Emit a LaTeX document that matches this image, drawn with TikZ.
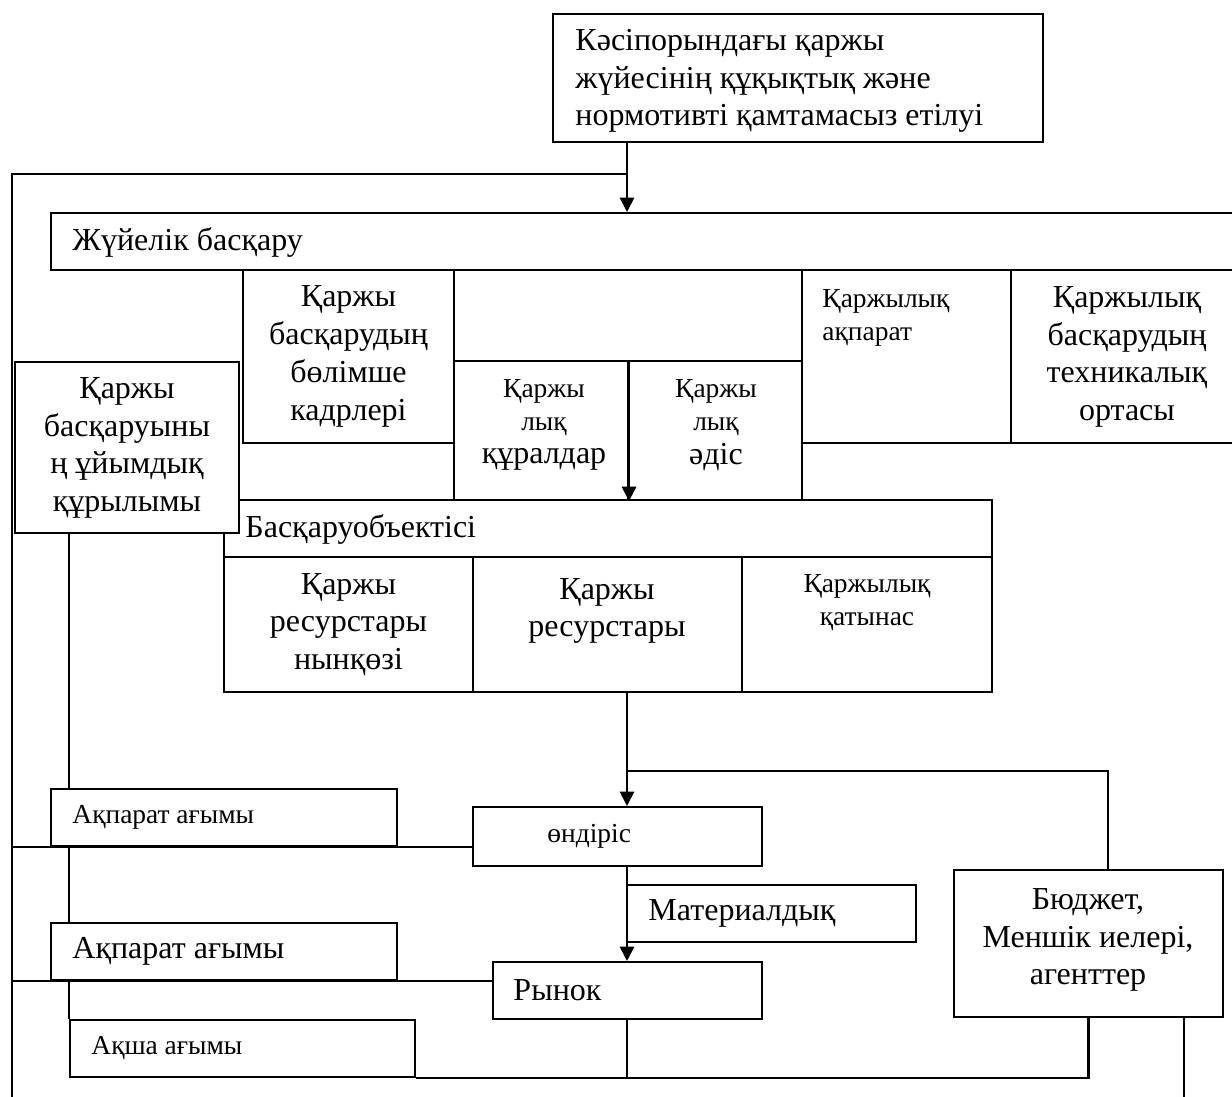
\documentclass[tikz,border=0pt]{standalone}
\usepackage{fontspec}
\setmainfont{Liberation Serif}
\usetikzlibrary{arrows.meta, fit, calc, backgrounds}

\newcommand{\bigfs}{\fontsize{14}{16.5}\selectfont}
\newcommand{\medfs}{\fontsize{12}{14.5}\selectfont}

\begin{document}
\begin{tikzpicture}[
    x=0.4375pt, y=-0.4375pt,
    % ── boxes ──
    cell/.style     = {draw=black, fill=white, line width=0.9pt, inner sep=0pt},
    % ── connectors ──
    link/.style     = {draw=black, line width=0.9pt},
    arr/.style      = {-{Triangle[length=6.3pt, width=6.3pt]}, line width=0.9pt},
    % ── text styles ──
    bigLabel/.style = {font=\bigfs, inner sep=0pt},
    medLabel/.style = {font=\medfs, inner sep=0pt},
]

\useasboundingbox (0,0) rectangle (1232,1097);
\clip (0,0) rectangle (1232,1097);

% =====================================================================
% Top: legal / normative support
% =====================================================================
\node[cell, fit={(553,14) (1043,142)}] (law) {};
\node[bigLabel, align=left, anchor=west] (lawTxt) at (575,81)
  {Кәсіпорындағы қаржы\\жүйесінің құқықтық және\\нормотивті қамтамасыз етілуі};

% =====================================================================
% System management strip and its sub-blocks
% =====================================================================
\node[cell, fit={(51,213) (1245,270)}] (sys) {};
\node[bigLabel, anchor=west] (sysTxt) at (72,243) {Жүйелік басқару};

\node[cell, fit={(243,270) (454,443)}] (staff) {};
\node[bigLabel, align=center] (staffTxt) at (staff.center)
  {Қаржы\\басқарудың\\бөлімше\\кадрлері};

\node[cell, fit={(454,361) (628,500)}] (tools) {};
\node[medLabel, align=center] (toolsTxt) at (544,425)
  {Қаржы\\лық\\{\bigfs құралдар}};

\node[cell, fit={(628,361) (802,500)}] (method) {};
\node[medLabel, align=center] (methodTxt) at (716,425)
  {Қаржы\\лық\\{\bigfs әдіс}};

\node[cell, fit={(802,270) (1011,443)}] (info) {};
\node[medLabel, align=left, anchor=west] (infoTxt) at (822,318)
  {Қаржылық\\ақпарат};

\node[cell, fit={(1011,270) (1245,443)}] (tech) {};
\node[bigLabel, align=center] (techTxt) at (1127,357)
  {Қаржылық\\басқарудың\\техникалық\\ортасы};

% =====================================================================
% Object of management
% =====================================================================
\node[cell, fit={(224,500) (992,557)}] (obj) {};
\node[bigLabel, anchor=west] (objTxt) at (245,530) {Басқаруобъектісі};

\node[cell, fit={(224,557) (473,692)}] (source) {};
\node[bigLabel, align=center] (sourceTxt) at (source.center)
  {Қаржы\\ресурстары\\нынқөзі};

\node[cell, fit={(473,557) (742,692)}] (res) {};
\node[bigLabel, align=center] (resTxt) at (607,611) {Қаржы\\ресурстары};

\node[cell, fit={(742,557) (992,692)}] (rel) {};
\node[medLabel, align=center] (relTxt) at (867,603) {Қаржылық\\қатынас};

% organisational structure (sits over the corner of obj)
\node[cell, fit={(15,362) (239,533)}] (org) {};
\node[bigLabel, align=center] (orgTxt) at (127,448)
  {Қаржы\\басқаруыны\\ң ұйымдық\\құрылымы};

% =====================================================================
% Flows, production, market, budget
% =====================================================================
\node[cell, fit={(51,789) (397,846)}] (flowA) {};
\node[medLabel, anchor=west] (flowATxt) at (72,817) {Ақпарат ағымы};

\node[cell, fit={(473,807) (762,866)}] (prod) {};
\node[medLabel, anchor=west] (prodTxt) at (547,836) {өндіріс};

\node[cell, fit={(627,885) (916,942)}] (mat) {};
\node[bigLabel, anchor=west] (matTxt) at (648,913) {Материалдық};

\node[cell, fit={(51,923) (397,980)}] (flowB) {};
\node[bigLabel, anchor=west] (flowBTxt) at (72,951) {Ақпарат ағымы};

\node[cell, fit={(493,962) (762,1019)}] (market) {};
\node[bigLabel, anchor=west] (marketTxt) at (513,990) {Рынок};

\node[cell, fit={(70,1020) (415,1077)}] (cash) {};
\node[medLabel, anchor=west] (cashTxt) at (91,1048) {Ақша ағымы};

\node[cell, fit={(954,870) (1223,1017)}] (budget) {};
\node[bigLabel, align=center] (budgetTxt) at (1088,940)
  {Бюджет,\\Меншік иелері,\\агенттер};

% =====================================================================
% Connectors
% =====================================================================
\coordinate (spine)   at (627,0);
\coordinate (railTop) at (12,174);
\coordinate (railEnd) at (12,1097);
\coordinate (split)   at (627,771);
\coordinate (ownEnd)  at (1184,1097);

\begin{scope}[on background layer]
  % left rail
  \draw[link] (railTop -| spine) -- (railTop) -- (railEnd);
  \draw[link] (railTop |- flowA.south) -- (flowA.south -| prod.west);
  \draw[link] (railTop |- flowB.south) -- (flowB.south -| market.west);
  % inner rail from the organisational block
  \draw[link] (org.south -| cash.west) -- (cash.north west);
  % branch to budget and back
  \draw[link] (split) -| ($(budget.north west)!0.572!(budget.north east)$);
  \draw[link] (budget.south) |- (cash.south east);
  \draw[link] (market.south -| spine) -- (cash.south -| spine);
  \draw[link] (ownEnd |- budget.south) -- (ownEnd);
\end{scope}

\draw[arr] (law.south -| spine) -- (sys.north -| spine);
\draw[arr] (tools.north east) -- (tools.south east);
\draw[arr] (res.south -| spine) -- (prod.north -| spine);
\draw[arr] (prod.south -| spine) -- (market.north -| spine);

\end{tikzpicture}
\end{document}
